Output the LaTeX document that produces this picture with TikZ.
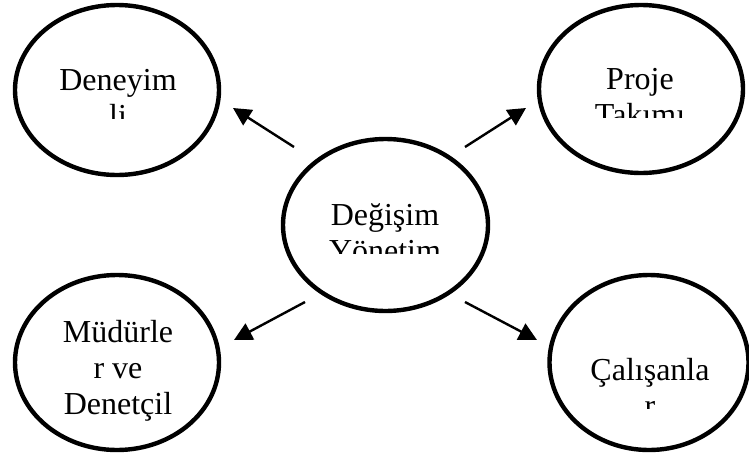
\documentclass[tikz,border=0pt]{standalone}
\usepackage{fontspec}
\setmainfont{Liberation Serif}
\usetikzlibrary{shapes.geometric,arrows.meta}
\tikzset{
  bub/.style={draw, ellipse, line width=4.4pt, inner sep=0pt},
  txt/.style={anchor=base, inner sep=0pt, font=\fontsize{32}{36}\selectfont},
  arr/.style={line width=2.4pt, -{Triangle[length=18pt,width=18pt]}}
}
\begin{document}
\begin{tikzpicture}[x=1pt,y=-1pt]
\useasboundingbox (0,0) rectangle (749,458);
% ellipses
\node[bub, minimum width=204pt, minimum height=170pt] (den) at (117,90) {};
\node[bub, minimum width=204pt, minimum height=168pt] (pro) at (641,89) {};
\node[bub, minimum width=205pt, minimum height=172pt] (deg) at (385.5,225) {};
\node[bub, minimum width=204pt, minimum height=175pt] (mud) at (117,362.5) {};
\node[bub, minimum width=199pt, minimum height=175pt] (cal) at (649,362.5) {};
% texts
\begin{scope}
\clip (20,20) rectangle (215,118);
\node[txt] (den1) at (118,90) {Deneyim};
\node[txt] (den2) at (118,126) {li};
\end{scope}
\begin{scope}
\clip (545,20) rectangle (740,117);
\node[txt] (pro1) at (640,89) {Proje};
\node[txt] (pro2) at (640,125) {Takımı};
\end{scope}
\begin{scope}
\clip (290,150) rectangle (485,253);
\node[txt] (deg1) at (385,225) {Değişim};
\node[txt] (deg2) at (385,261) {Yönetim};
\end{scope}
\node[txt] (mud1) at (118,342) {Müdürle};
\node[txt] (mud2) at (118,378) {r ve};
\node[txt] (mud3) at (118,414) {Denetçil};
\begin{scope}
\clip (555,290) rectangle (745,408);
\node[txt] (cal1) at (650,380) {Çalışanla};
\node[txt] (cal2) at (650,416) {r};
\end{scope}
% arrows
\coordinate (a1s) at (294,147);
\coordinate (a1e) at (233,108);
\coordinate (a2s) at (465,147);
\coordinate (a2e) at (526,108);
\coordinate (a3s) at (305,302);
\coordinate (a3e) at (234,340);
\coordinate (a4s) at (465,302);
\coordinate (a4e) at (537,340);
\draw[arr] (a1s) -- (a1e);
\draw[arr] (a2s) -- (a2e);
\draw[arr] (a3s) -- (a3e);
\draw[arr] (a4s) -- (a4e);
\end{tikzpicture}
\end{document}
